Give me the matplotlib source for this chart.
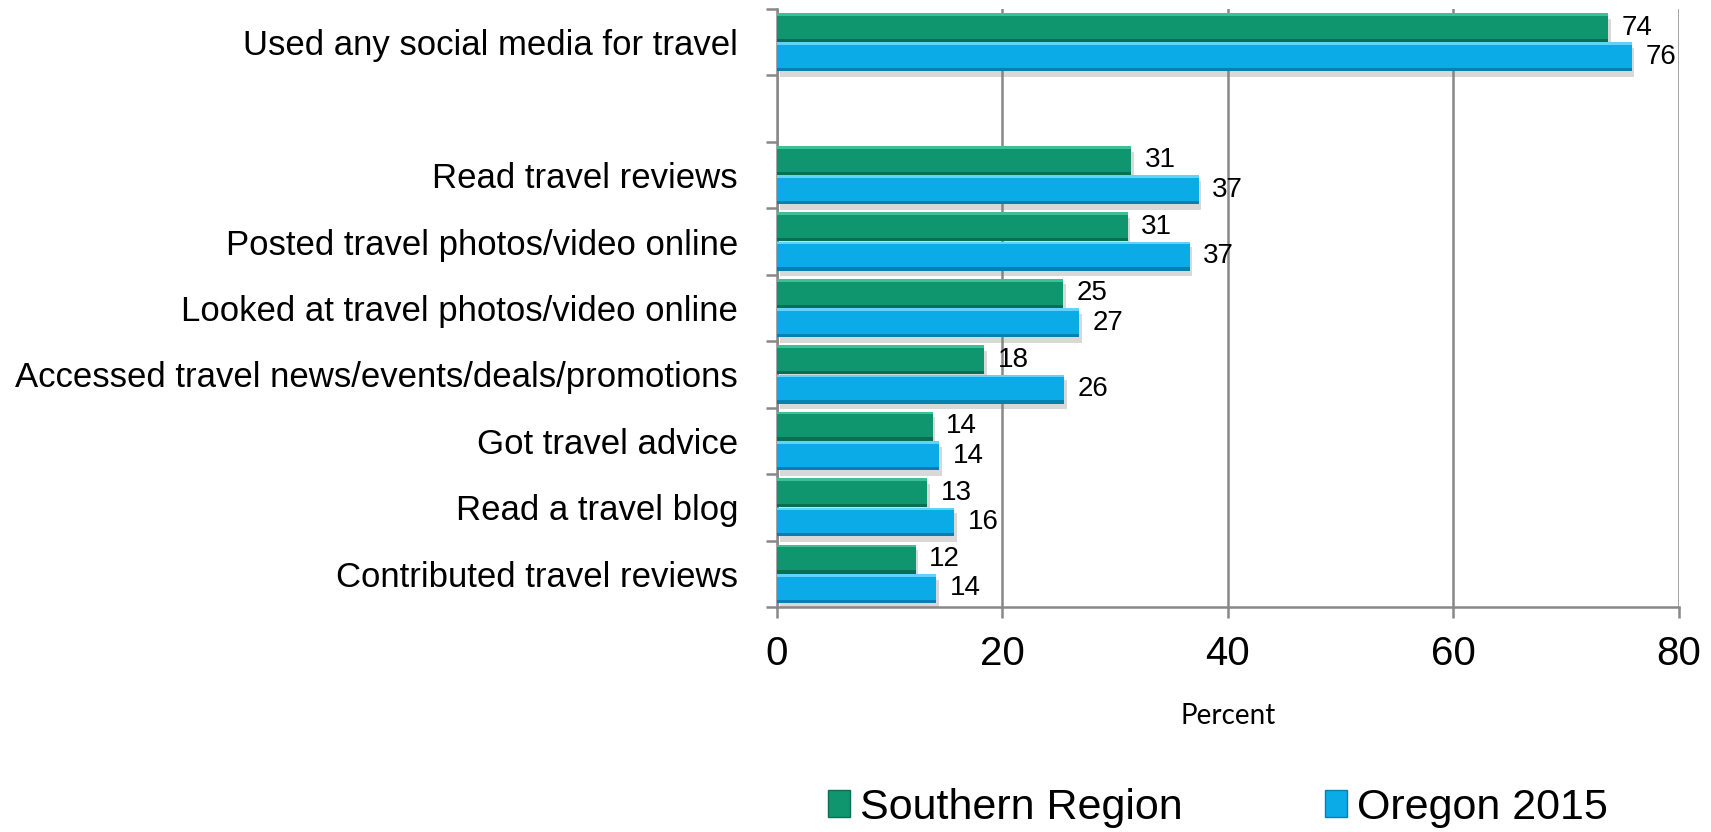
import matplotlib.pyplot as plt
import matplotlib.patheffects as pe
from matplotlib.patches import Patch
from matplotlib.ticker import MultipleLocator, FixedLocator

categories = ["Used any social media for travel", "",
              "Read travel reviews", "Posted travel photos/video online",
              "Looked at travel photos/video online",
              "Accessed travel news/events/deals/promotions",
              "Got travel advice", "Read a travel blog",
              "Contributed travel reviews"]
southern = [73.7, None, 31.4, 31.1, 25.4, 18.4, 13.8, 13.3, 12.3]
oregon = [75.8, None, 37.4, 36.6, 26.8, 25.5, 14.4, 15.7, 14.1]
series_names = ["Southern Region", "Oregon 2015"]

green = "#0f966f"
green_hi = "#3fbf95"
green_lo = "#0a6e52"
blue = "#0aabe7"
blue_hi = "#5fd3fa"
blue_lo = "#0780b0"

plt.rcParams["font.family"] = ["Liberation Sans", "DejaVu Sans"]

fig = plt.figure(figsize=(17.11, 8.32), dpi=100)
ax = fig.add_axes([0.4541, 0.2704, 0.5272, 0.7188])

n = len(categories)
ypos = [n - 1 - i for i in range(n)]
h = 0.435
off = 0.22

shadow = [pe.SimplePatchShadow(offset=(2, -4), shadow_rgbFace="gray", alpha=0.3),
          pe.Normal()]

for vals, dy, base, hi, lo in [(southern, off, green, green_hi, green_lo),
                               (oregon, -off, blue, blue_hi, blue_lo)]:
    ys = [y + dy for y, v in zip(ypos, vals) if v is not None]
    ws = [v for v in vals if v is not None]
    bars = ax.barh(ys, ws, height=h, color=base, zorder=3)
    for b in bars:
        b.set_path_effects(shadow)
    # bevel strips along top and bottom edges
    ax.barh([y + h / 2 - 0.02 for y in ys], ws, height=0.04, color=hi, zorder=4)
    ax.barh([y - h / 2 + 0.025 for y in ys], ws, height=0.05, color=lo, zorder=4)
    for y, w in zip(ys, ws):
        ax.text(w + 1.2, y, "%d" % round(w), va="center", ha="left",
                fontsize=20, color="black", zorder=5)

ax.set_xlim(0, 80)
ax.set_ylim(-0.5, n - 0.5)

ax.xaxis.set_major_locator(MultipleLocator(20))
ax.grid(axis="x", color="#888888", linewidth=1.8, zorder=0)
ax.yaxis.set_major_locator(FixedLocator(ypos))
ax.set_yticklabels(categories, fontsize=25)
ax.yaxis.set_minor_locator(FixedLocator([y - 0.5 for y in range(n + 1)]))

ax.tick_params(axis="y", which="major", length=0, pad=28)
ax.tick_params(axis="y", which="minor", length=8, width=1.8, color="#888888",
               direction="out")
ax.tick_params(axis="x", length=8, width=1.8, color="#888888",
               direction="out", labelsize=29, pad=12)

for s in ["top", "right"]:
    ax.spines[s].set_visible(False)
for s in ["left", "bottom"]:
    ax.spines[s].set_color("#888888")
    ax.spines[s].set_linewidth(1.8)

ax.set_xlabel("Percent", family=["Lato", "DejaVu Sans"], fontsize=20, labelpad=22)

handles = [Patch(facecolor=green, edgecolor=green_lo),
           Patch(facecolor=blue, edgecolor=blue_lo)]
fig.legend(handles, series_names, loc="center", bbox_to_anchor=(0.712, 0.029),
           ncol=2, frameon=False, prop={"size": 31},
           handlelength=0.5, handleheight=0.6, handletextpad=0.25,
           columnspacing=3.3)

fig.savefig("out.png", dpi=100)
